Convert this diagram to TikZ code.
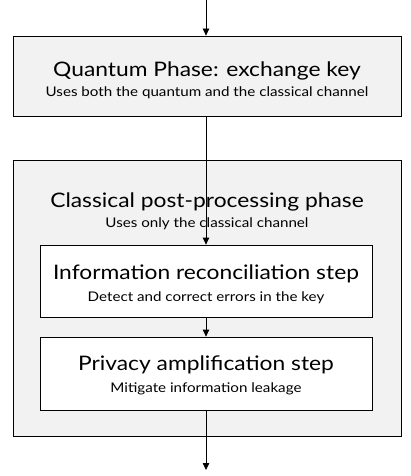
\documentclass[tikz,border=0pt]{standalone}
\usepackage{fontspec}
\setmainfont{Lato}[FakeStretch=1.14]
\usetikzlibrary{arrows.meta}
\begin{document}
\begin{tikzpicture}[x=1pt,y=-1pt,
  phasebox/.style={draw=black, line width=0.8pt, fill=black!5, inner sep=0pt},
  stepbox/.style={draw=black, line width=0.8pt, fill=white, inner sep=0pt},
  flow/.style={line width=0.8pt, -{Triangle[length=7pt,width=6.5pt]}},
  big/.style={anchor=base, inner sep=0pt, font=\fontsize{20}{24}\selectfont},
  small/.style={anchor=base, inner sep=0pt, font=\fontsize{13.3}{16}\selectfont}]
\useasboundingbox (0,0) rectangle (411,476);
\fill[white] (0,0) rectangle (411,476);
% quantum phase
\node[phasebox, minimum width=388pt, minimum height=80pt] (q) at (207,76) {};
\node[big] (qt) at (207,77) {Quantum Phase: exchange key};
\node[small] (qs) at (207,97) {Uses both the quantum and the classical channel};
% classical phase
\node[phasebox, minimum width=388pt, minimum height=276pt] (c) at (207,298) {};
\node[big] (ct) at (207,207) {Classical post-processing phase};
\node[small] (cs) at (207,227) {Uses only the classical channel};
\node[stepbox, minimum width=332pt, minimum height=72pt] (ir) at (206,281) {};
\node[big] (irt) at (206,279) {Information reconciliation step};
\node[small] (irs) at (206,301) {Detect and correct errors in the key};
\node[stepbox, minimum width=332pt, minimum height=73pt] (pa) at (206,373.5) {};
\node[big] (pat) at (206,370) {Privacy amplification step};
\node[small] (pas) at (206,392) {Mitigate information leakage};
\coordinate (top) at (206,0);
\coordinate (bot) at (206,470);
\draw[flow] (top) -- (top |- q.north);
\draw[flow] (top |- q.south) -- (top |- ir.north);
\draw[flow] (top |- ir.south) -- (top |- pa.north);
\draw[flow] (top |- pa.south) -- (bot);
\end{tikzpicture}
\end{document}
